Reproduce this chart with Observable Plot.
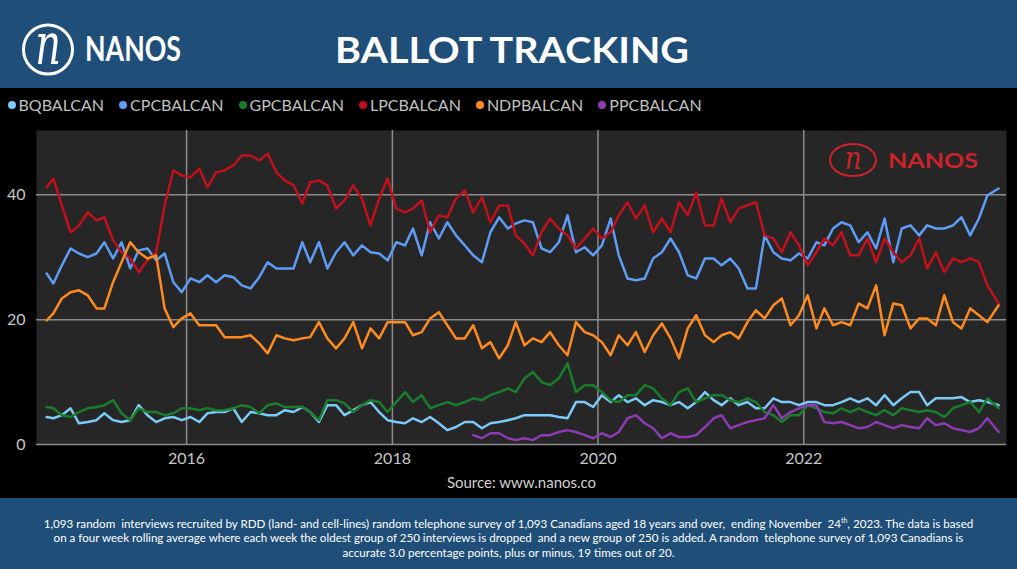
<!DOCTYPE html>
<html><head><meta charset="utf-8">
<script src="https://cdn.jsdelivr.net/npm/d3@7"></script>
<script src="https://cdn.jsdelivr.net/npm/@observablehq/plot@0.6"></script>
<style>
html,body{margin:0;padding:0;background:#000;overflow:hidden}
#root{position:relative;width:1017px;height:569px;background:#000;font-family:Lato,sans-serif}
#header{position:absolute;left:0;top:0;width:1017px;height:88px;background:#1f4e79}
#legend{position:absolute;left:7.5px;top:94px;display:flex;gap:15px;font-size:16px;color:#c0c0c0;line-height:22px;white-space:nowrap}
.item{display:flex;align-items:center}
.dot{width:8px;height:8px;border-radius:50%;margin-right:3px}
#chart{position:absolute;left:0;top:120px}
#mark{position:absolute;left:0;top:0;pointer-events:none}
#source{position:absolute;left:13px;width:1017px;top:472px;text-align:center;color:#d0d0d0;font-size:15px;line-height:20px}
#footer{position:absolute;left:0;top:498px;width:1017px;height:71px;background:#1f4e79;color:#fff;font-size:11.6px;text-align:center;line-height:14.5px;padding-top:18.5px;box-sizing:border-box}
#footer sup{font-size:7px;line-height:0}
</style></head>
<body><div id="root">
<div id="header">
<svg width="1017" height="88">
<circle cx="48" cy="49.5" r="24.5" fill="none" stroke="#fff" stroke-width="3"/>
<text transform="translate(48,64) scale(1,1.45)" text-anchor="middle" font-family="DejaVu Serif" font-style="italic" font-size="40" fill="#fff">n</text>
<text x="85" y="61" font-family="Lato" font-weight="bold" font-size="34" textLength="96" lengthAdjust="spacingAndGlyphs" fill="#fff">NANOS</text>
<text x="335" y="63" font-family="Lato" font-weight="bold" font-size="37" textLength="354" lengthAdjust="spacingAndGlyphs" fill="#fff">BALLOT TRACKING</text>
</svg>
</div>
<div id="legend"></div>
<div id="chart"></div>
<svg id="mark" width="1017" height="569">
<ellipse cx="853" cy="160" rx="23" ry="16" fill="none" stroke="#cc2229" stroke-width="2"/>
<text transform="translate(853,169) scale(1,1.25)" text-anchor="middle" font-family="DejaVu Serif" font-style="italic" font-size="26" fill="#cc2229">n</text>
<text x="888" y="168" font-family="Lato" font-weight="bold" font-size="21" textLength="90" lengthAdjust="spacingAndGlyphs" fill="#cc2229">NANOS</text>
</svg>
<div id="source">Source: www.nanos.co</div>
<div id="footer">1,093 random&nbsp; interviews recruited by RDD (land- and cell-lines) random telephone survey of 1,093 Canadians aged 18 years and over,&nbsp; ending November&nbsp; 24<sup>th</sup>, 2023. The data is based<br>on a four week rolling average where each week the oldest group of 250 interviews is dropped&nbsp; and a new group of 250 is added. A random&nbsp; telephone survey of 1,093 Canadians is<br>accurate 3.0 percentage points, plus or minus, 19 times out of 20.</div>
</div>
<script>
const dates = [
"2014-08-22","2014-09-15","2014-10-15","2014-11-15","2014-12-15",
"2015-01-15","2015-02-15","2015-03-15","2015-04-15","2015-05-15","2015-06-15","2015-07-15","2015-08-15","2015-09-15","2015-10-15","2015-11-15","2015-12-15",
"2016-01-15","2016-02-15","2016-03-15","2016-04-15","2016-05-15","2016-06-15","2016-07-15","2016-08-15","2016-09-15","2016-10-15","2016-11-15","2016-12-15",
"2017-01-15","2017-02-15","2017-03-15","2017-04-15","2017-05-15","2017-06-15","2017-07-15","2017-08-15","2017-09-15","2017-10-15","2017-11-15","2017-12-15",
"2018-01-15","2018-02-15","2018-03-15","2018-04-15","2018-05-15","2018-06-15","2018-07-15","2018-08-15","2018-09-15","2018-10-15","2018-11-15","2018-12-15",
"2019-01-15","2019-02-15","2019-03-15","2019-04-15","2019-05-15","2019-06-15","2019-07-15","2019-08-15","2019-09-15","2019-10-15","2019-11-15","2019-12-15",
"2020-01-15","2020-02-15","2020-03-15","2020-04-15","2020-05-15","2020-06-15","2020-07-15","2020-08-15","2020-09-15","2020-10-15","2020-11-15","2020-12-15",
"2021-01-15","2021-02-15","2021-03-15","2021-04-15","2021-05-15","2021-06-15","2021-07-15","2021-08-15","2021-09-15","2021-10-15","2021-11-15","2021-12-15",
"2022-01-15","2022-02-15","2022-03-15","2022-04-15","2022-05-15","2022-06-15","2022-07-15","2022-08-15","2022-09-15","2022-10-15","2022-11-15","2022-12-15",
"2023-01-15","2023-02-15","2023-03-15","2023-04-15","2023-05-15","2023-06-15","2023-07-15","2023-08-15","2023-09-15","2023-10-15","2023-11-24"
];
const BQ = [
4.4,4.2,4.7,5.8,3.4,
3.6,3.9,5.0,3.9,3.6,3.9,6.3,4.7,3.6,4.2,4.4,3.9,
4.4,3.6,5.0,5.2,5.2,5.8,3.6,5.2,5.0,4.7,4.7,5.5,
5.2,6.0,5.2,3.6,6.3,6.3,4.7,5.5,6.3,6.8,5.2,3.9,
3.6,3.4,4.2,3.6,4.4,3.4,2.3,2.8,3.6,3.6,2.6,3.4,
3.6,3.9,4.2,4.7,4.7,4.7,4.7,4.4,4.2,6.8,6.8,6.0,
7.9,6.8,7.9,6.8,7.4,6.3,7.1,6.8,6.3,6.8,5.8,6.8,
8.4,7.1,6.3,7.4,6.3,6.8,5.8,5.8,7.4,6.8,6.8,6.3,
6.8,6.8,6.3,6.3,6.8,7.4,6.8,7.4,6.3,7.9,6.3,7.4,
8.4,8.4,6.3,7.4,7.4,7.4,7.6,6.8,7.1,6.8,6.3
];
const CPC = [
27.4,25.8,28.7,31.4,30.6,
30.0,30.6,32.4,29.8,32.4,28.2,31.1,31.4,29.5,30.6,26.0,24.4,
26.6,26.0,27.1,26.0,27.1,26.8,25.5,25.0,26.8,29.2,28.2,28.2,
28.2,32.4,29.2,32.4,28.2,30.8,32.4,30.3,31.9,30.8,30.6,29.5,
32.4,31.9,34.6,30.3,35.6,33.0,35.6,33.5,31.9,30.3,29.2,34.0,
36.4,34.6,35.4,35.9,35.6,31.4,30.8,32.4,36.7,30.8,31.6,30.3,
31.9,36.2,30.3,26.6,26.3,26.6,29.8,30.8,33.0,30.8,27.1,26.6,
29.8,29.8,28.7,29.8,28.2,25.0,25.0,33.5,30.8,29.8,29.5,30.6,
29.8,32.4,31.9,34.6,35.6,35.1,32.4,34.0,31.4,36.2,29.2,34.6,
35.1,33.5,35.1,34.6,34.6,35.1,36.4,33.5,36.2,39.9,41.0
];
const GPC = [
6.0,5.8,4.7,4.4,5.2,
5.8,6.0,6.3,7.1,5.0,3.9,5.8,5.2,5.2,4.7,5.0,5.8,
5.8,5.5,5.8,5.5,5.5,5.8,6.3,6.0,5.0,6.3,6.6,6.0,
6.0,6.0,5.2,3.9,7.1,7.1,6.6,5.2,6.3,7.1,6.8,5.2,
6.8,8.4,6.8,7.9,5.8,6.3,6.8,6.3,6.8,7.4,7.1,7.9,
8.4,9.0,8.4,10.6,11.6,10.0,9.5,10.6,13.0,8.4,9.5,9.5,
8.4,7.1,6.8,7.9,7.9,9.5,9.0,7.4,6.3,8.4,9.0,6.8,
7.4,7.9,7.9,7.1,6.8,7.4,6.8,5.2,4.7,3.6,4.7,4.7,
6.3,5.8,5.2,5.0,5.8,5.2,5.8,5.2,4.7,5.5,4.7,5.8,
5.5,5.2,5.5,5.2,4.4,5.8,6.3,6.8,5.2,7.4,5.8
];
const LPC = [
41.2,42.6,38.3,34.0,35.1,
37.2,35.9,36.4,32.7,30.8,29.8,27.6,29.5,30.8,38.3,43.9,43.1,
42.8,44.2,41.2,43.6,43.9,44.7,46.3,46.3,45.5,46.6,43.6,42.3,
41.5,38.6,42.0,42.3,41.5,37.8,39.1,41.5,39.4,35.1,39.4,42.6,
37.8,37.2,37.8,39.1,34.0,36.7,36.4,39.4,40.7,37.2,39.6,35.6,
38.3,38.3,33.5,32.2,30.3,34.0,36.2,34.6,33.5,31.4,33.0,34.6,
33.0,34.0,36.7,38.8,36.2,38.3,34.0,36.2,34.0,38.8,36.7,40.4,
35.1,35.1,39.4,35.6,37.8,38.3,38.8,33.5,33.0,30.8,34.0,31.9,
28.7,30.8,33.0,31.9,34.0,30.3,30.3,33.0,29.2,33.0,30.8,29.2,
30.3,33.0,28.2,30.8,27.6,29.8,29.2,29.8,29.2,25.5,22.6
];
const NDP = [
19.9,21.0,23.4,24.4,24.7,
23.9,21.8,21.8,26.0,29.2,32.4,30.8,29.8,30.3,21.8,18.8,20.2,
21.0,19.1,19.1,19.1,17.2,17.2,17.2,17.5,16.2,14.6,17.5,17.0,
16.7,17.0,17.2,19.6,17.0,15.4,17.0,19.6,15.4,18.6,17.0,19.6,
19.6,19.6,17.5,18.0,20.2,21.2,19.1,17.0,17.0,19.1,15.4,16.4,
13.8,15.9,19.6,15.9,17.0,16.4,18.0,15.9,14.3,19.6,18.0,17.5,
16.4,14.3,17.5,15.9,18.0,14.8,17.5,19.4,17.0,13.8,18.6,20.7,
17.5,16.4,17.5,18.0,17.0,19.6,21.5,20.2,22.3,23.4,19.1,20.7,
23.9,18.6,21.8,19.1,19.6,19.1,22.6,21.8,25.5,17.5,22.6,22.3,
18.6,20.2,20.2,19.1,23.9,19.6,18.6,21.8,20.7,19.6,22.3
];
const PPC = [
null,null,null,null,null,
null,null,null,null,null,null,null,null,null,null,null,null,
null,null,null,null,null,null,null,null,null,null,null,null,
null,null,null,null,null,null,null,null,null,null,null,null,
null,null,null,null,null,null,null,null,null,1.5,1.0,1.8,
1.8,1.0,0.7,1.0,0.7,1.5,1.5,2.0,2.3,2.0,1.5,1.0,
1.8,1.2,2.0,4.2,4.7,3.4,2.6,1.0,1.8,1.2,1.2,1.5,
2.8,4.2,4.7,2.6,3.1,3.6,3.9,4.2,6.3,4.2,5.2,5.8,
6.3,6.3,3.6,3.4,3.6,3.1,2.6,2.8,3.6,3.1,2.6,3.1,
2.8,2.6,4.2,3.1,3.4,2.6,2.3,2.0,2.6,4.2,2.0
];
const parties = ["BQBALCAN","CPCBALCAN","GPCBALCAN","LPCBALCAN","NDPBALCAN","PPCBALCAN"];
const colors = ["#7ccbf7","#5e9cf5","#1a7d2e","#c0111d","#fd8b1f","#8c3bb3"];
const yTicks = [0, 20, 40];
const xTickYears = ["2016-01-01","2018-01-01","2020-01-01","2022-01-01"];

const valuesByParty = [BQ, CPC, GPC, LPC, NDP, PPC];
const rows = [];
parties.forEach((p, k) => valuesByParty[k].forEach((v, i) => {
  if (v != null) rows.push({party: p, date: new Date(dates[i]), value: v});
}));
const xTicks = xTickYears.map(d => new Date(d));

// legend
const legend = document.getElementById("legend");
parties.forEach((p, k) => {
  const it = document.createElement("div"); it.className = "item";
  const dot = document.createElement("span"); dot.className = "dot"; dot.style.background = colors[k];
  const t = document.createElement("span"); t.textContent = p;
  it.appendChild(dot); it.appendChild(t); legend.appendChild(it);
});

const chart = Plot.plot({
  width: 1017, height: 355,
  marginLeft: 36, marginRight: 11, marginTop: 10, marginBottom: 31,
  style: {background: "transparent", color: "#c8c8c8", fontFamily: "Lato, sans-serif", fontSize: "16px"},
  x: {type: "utc", domain: [new Date("2014-07-17"), new Date("2023-12-22")]},
  y: {domain: [0, 50.3]},
  color: {domain: parties, range: colors},
  marks: [
    Plot.frame({fill: "#262626", stroke: null}),
    Plot.gridX(xTicks, {stroke: "#8c8c8c", strokeOpacity: 1, strokeWidth: 1.5}),
    Plot.gridY(yTicks, {stroke: "#8c8c8c", strokeOpacity: 1, strokeWidth: 1.5}),
    Plot.line(rows, {x: "date", y: "value", z: "party", stroke: "party", strokeWidth: 2.5, curve: "linear"}),
    Plot.axisX(xTicks, {tickFormat: d3.utcFormat("%Y"), tickSize: 0, tickPadding: 8, fontSize: 16, label: null}),
    Plot.axisY(yTicks, {tickSize: 0, tickPadding: 11, fontSize: 16, label: null})
  ]
});
document.getElementById("chart").appendChild(chart);
</script>
</body></html>
